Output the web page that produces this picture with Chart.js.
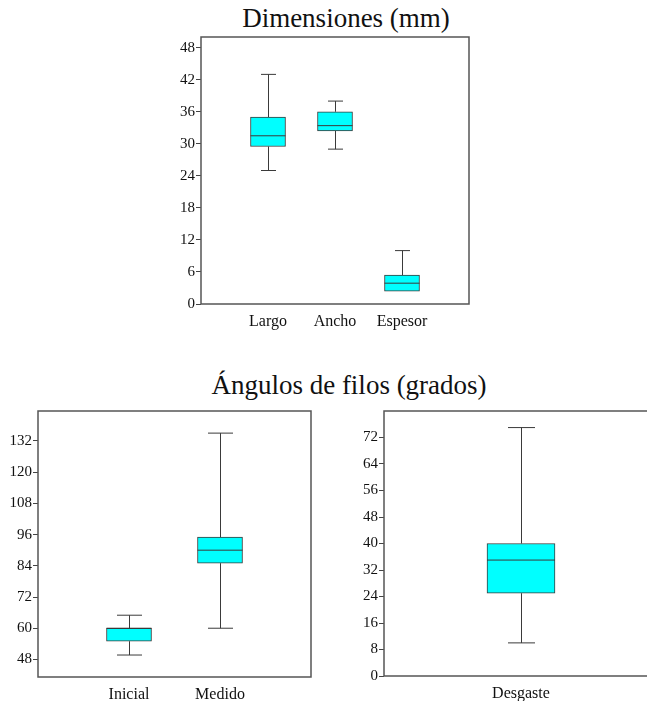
<!DOCTYPE html>
<html>
<head>
<meta charset="utf-8">
<script src="https://cdn.jsdelivr.net/npm/chart.js@4/dist/chart.umd.min.js"></script>
<style>
    html, body { margin: 0; padding: 0; background: #fff; }
    body { width: 647px; height: 701px; position: relative; overflow: hidden; }
    .title {
        position: absolute;
        font-family: 'Liberation Serif', 'Times New Roman', serif;
        font-size: 27px;
        line-height: 27px;
        color: #111;
        white-space: nowrap;
        transform: translateX(-50%);
    }
    .box { position: absolute; }
</style>
</head>
<body>
<div class="title" style="left:346px; top:5px;">Dimensiones (mm)</div>
<div class="title" style="left:349px; top:372px;">Ángulos de filos (grados)</div>

<div class="box" style="left:165px; top:27px; width:310px; height:313px;"><canvas id="dimChart"></canvas></div>
<div class="box" style="left:2px; top:401px; width:315px; height:312px;"><canvas id="angChart"></canvas></div>
<div class="box" style="left:348px; top:401px; width:316px; height:311px;"><canvas id="wearChart"></canvas></div>

<script>
/* ========= DATA ========= */
var dimCategories = ['Largo', 'Ancho', 'Espesor'];
var dimMin    = [25, 29, 2.4];
var dimQ1     = [29.5, 32.4, 2.4];
var dimMedian = [31.5, 33.4, 3.9];
var dimQ3     = [35, 36, 5.4];
var dimMax    = [43, 38, 10];
var dimTicks  = [0, 6, 12, 18, 24, 30, 36, 42, 48];

var angCategories = ['Inicial', 'Medido'];
var angMin    = [49.7, 60];
var angQ1     = [55, 85];
var angMedian = [60, 90];
var angQ3     = [60, 95];
var angMax    = [65, 135];
var angTicks  = [48, 60, 72, 84, 96, 108, 120, 132];

var wearCategories = ['Desgaste'];
var wearMin    = [10];
var wearQ1     = [25];
var wearMedian = [35];
var wearQ3     = [40];
var wearMax    = [75];
var wearTicks  = [0, 8, 16, 24, 32, 40, 48, 56, 64, 72];

/* ========= BOX PLOT HELPERS ========= */
var serif = "'Liberation Serif', 'Times New Roman', serif";
var lineColor = '#3a3a3a';

var boxPlugin = {
    id: 'boxWhiskers',
    afterDatasetsDraw: function (chart) {
        var stats = chart.options.plugins.boxWhiskers;
        var meta = chart.getDatasetMeta(0);
        var y = chart.scales.y;
        var ctx = chart.ctx;
        ctx.save();
        ctx.strokeStyle = lineColor;
        ctx.lineWidth = 1;
        meta.data.forEach(function (bar, i) {
            if (stats.min[i] == null) return;
            var x = Math.round(bar.x) + 0.5;
            var half = bar.width / 2;
            var cap = stats.capWidth / 2;
            var yMin = y.getPixelForValue(stats.min[i]);
            var yQ1 = y.getPixelForValue(stats.q1[i]);
            var yMed = y.getPixelForValue(stats.median[i]);
            var yQ3 = y.getPixelForValue(stats.q3[i]);
            var yMax = y.getPixelForValue(stats.max[i]);
            ctx.beginPath();
            // upper whisker
            ctx.moveTo(x, yQ3); ctx.lineTo(x, yMax);
            ctx.moveTo(x - cap, yMax); ctx.lineTo(x + cap, yMax);
            // lower whisker
            if (stats.min[i] < stats.q1[i]) {
                ctx.moveTo(x, yQ1); ctx.lineTo(x, yMin);
                ctx.moveTo(x - cap, yMin); ctx.lineTo(x + cap, yMin);
            }
            // median
            ctx.moveTo(bar.x - half, yMed); ctx.lineTo(bar.x + half, yMed);
            ctx.stroke();
        });
        ctx.restore();
    }
};

var framePlugin = {
    id: 'frame',
    afterDraw: function (chart) {
        var a = chart.chartArea;
        var ctx = chart.ctx;
        ctx.save();
        ctx.strokeStyle = '#555';
        ctx.lineWidth = 1.5;
        ctx.strokeRect(a.left, a.top, a.right - a.left, a.bottom - a.top);
        ctx.restore();
    }
};

function makeBoxChart(id, cats, mins, q1s, meds, q3s, maxs, ticks, yMin, yMax, thickness, capWidth) {
    var labels = [''].concat(cats, ['']);
    var boxes = [null].concat(cats.map(function (_, i) { return [q1s[i], q3s[i]]; }), [null]);

    return new Chart(document.getElementById(id), {
        type: 'bar',
        data: {
            labels: labels,
            datasets: [{
                data: boxes,
                backgroundColor: '#00ffff',
                borderColor: lineColor,
                borderWidth: 1,
                borderSkipped: false,
                barThickness: thickness
            }]
        },
        options: {
            responsive: true,
            maintainAspectRatio: false,
            animation: false,
            layout: { autoPadding: false, padding: { top: 10, right: 6, bottom: 0, left: 0 } },
            plugins: {
                legend: { display: false },
                tooltip: { enabled: false },
                boxWhiskers: {
                    min: [null].concat(mins, [null]),
                    q1: [null].concat(q1s, [null]),
                    median: [null].concat(meds, [null]),
                    q3: [null].concat(q3s, [null]),
                    max: [null].concat(maxs, [null]),
                    capWidth: capWidth
                }
            },
            scales: {
                x: {
                    offset: false,
                    grid: { display: false },
                    border: { display: false },
                    ticks: {
                        autoSkip: false,
                        maxRotation: 0,
                        padding: 0,
                        color: '#111',
                        font: { family: serif, size: 16 }
                    },
                    afterFit: function (s) { s.height = 36; }
                },
                y: {
                    min: yMin,
                    max: yMax,
                    grid: { drawOnChartArea: false, drawTicks: true, tickLength: 5, color: '#444' },
                    border: { display: false },
                    ticks: {
                        padding: 1,
                        color: '#111',
                        font: { family: serif, size: 15 }
                    },
                    afterBuildTicks: function (s) {
                        s.ticks = ticks.map(function (v) { return { value: v }; });
                    },
                    afterFit: function (s) { s.width = 36; }
                }
            }
        },
        plugins: [boxPlugin, framePlugin]
    });
}

makeBoxChart('dimChart', dimCategories, dimMin, dimQ1, dimMedian, dimQ3, dimMax, dimTicks, 0, 50, 35, 15);
makeBoxChart('angChart', angCategories, angMin, angQ1, angMedian, angQ3, angMax, angTicks, 41.25, 143.5, 45, 25);
makeBoxChart('wearChart', wearCategories, wearMin, wearQ1, wearMedian, wearQ3, wearMax, wearTicks, 0, 80, 68, 27);
</script>
</body>
</html>
